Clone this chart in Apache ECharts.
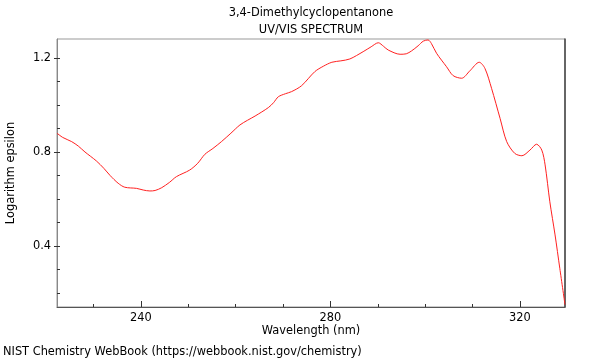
<!DOCTYPE html>
<html><head><meta charset="utf-8">
<script src="https://cdn.jsdelivr.net/npm/echarts@6/dist/echarts.min.js"></script>
<style>html,body{margin:0;padding:0;background:#fff}#c{width:600px;height:360px}</style>
</head><body><div id="c"></div>
<script>
const wavelengths = [222.3,223.5,225.4,226.8,228.2,230.6,232.2,233.5,235.2,236.6,239.1,240.5,241.9,243.0,244.4,246.0,247.5,250.3,252.0,253.5,255.2,257.0,259.0,260.9,262.5,264.1,266.9,268.0,269.0,270.5,271.8,273.9,276.7,278.5,280.3,282.2,284.1,286.9,288.6,290.1,291.2,292.2,294.7,296.0,297.1,298.5,299.6,300.6,301.3,302.4,304.5,305.9,307.7,309.4,311.4,312.6,314.0,315.8,317.2,318.9,320.4,322.1,323.5,324.6,325.3,326.3,327.4,328.4,329.5];
const epsilon = [0.880,0.862,0.844,0.825,0.800,0.762,0.730,0.700,0.667,0.650,0.645,0.638,0.634,0.636,0.648,0.670,0.695,0.723,0.752,0.790,0.815,0.844,0.880,0.915,0.935,0.953,0.989,1.010,1.035,1.048,1.057,1.082,1.142,1.165,1.182,1.188,1.196,1.227,1.248,1.265,1.250,1.234,1.216,1.218,1.230,1.252,1.272,1.277,1.262,1.220,1.163,1.125,1.114,1.145,1.182,1.156,1.071,0.943,0.844,0.794,0.784,0.808,0.833,0.808,0.745,0.588,0.447,0.305,0.150];
const xLabelValues = [240,280,320];
const xMinorTicks = [230,240,250,260,270,280,290,300,310,320];
const yLabelValues = [0.4,0.8,1.2];
const yMinorTicks = [0.2,0.3,0.4,0.5,0.6,0.7,0.8,0.9,1.0,1.1,1.2];
const titleText = '3,4-Dimethylcyclopentanone';
const subtitleText = 'UV/VIS SPECTRUM';
const xName = 'Wavelength (nm)';
const yName = 'Logarithm epsilon';
const footer = 'NIST Chemistry WebBook (https://webbook.nist.gov/chemistry)';

const FONT = 'DejaVu Sans';
const FS = 11.4;
const F = FS + 'px "DejaVu Sans"';
const chart = echarts.init(document.getElementById('c'));
const XMIN = 222.3, XMAX = 329.5, YMIN = 0.14, YMAX = 1.281;
chart.setOption({
  animation: false,
  backgroundColor: '#fff',
  grid: {left: 57, right: 35, top: 39, bottom: 53, show: true, borderColor: '#999', borderWidth: 1},
  graphic: [
    {type: 'text', x: 311, y: 13, style: {text: titleText, font: F, fill: '#000', align: 'center', verticalAlign: 'middle'}},
    {type: 'text', x: 311, y: 30, style: {text: subtitleText, font: F, fill: '#000', align: 'center', verticalAlign: 'middle'}},
    {type: 'text', x: 311, y: 331, style: {text: xName, font: F, fill: '#000', align: 'center', verticalAlign: 'middle'}},
    {type: 'text', x: 11, y: 173, rotation: Math.PI / 2, style: {text: yName, font: F, fill: '#000', align: 'center', verticalAlign: 'middle'}},
    {type: 'text', x: 3, y: 352, style: {text: footer, font: F, fill: '#000', align: 'left', verticalAlign: 'middle'}}
  ],
  xAxis: [
    {type: 'value', min: XMIN, max: XMAX, position: 'bottom',
     axisLine: {show: true, lineStyle: {color: '#555', width: 1}},
     axisTick: {show: true, inside: true, length: 3, customValues: xMinorTicks, lineStyle: {color: '#333'}},
     axisLabel: {show: true, customValues: xLabelValues, margin: 6, fontFamily: FONT, fontSize: FS, color: '#000', formatter: v => String(Math.round(v))},
     splitLine: {show: false}},
    {type: 'value', min: XMIN, max: XMAX, position: 'bottom',
     axisLine: {show: false},
     axisTick: {show: true, inside: true, length: 6, customValues: xLabelValues, lineStyle: {color: '#333'}},
     axisLabel: {show: false}, splitLine: {show: false}}
  ],
  yAxis: [
    {type: 'value', min: YMIN, max: YMAX, position: 'left',
     axisLine: {show: true, lineStyle: {color: '#888', width: 1}},
     axisTick: {show: true, inside: true, length: 3, customValues: yMinorTicks, lineStyle: {color: '#333'}},
     axisLabel: {show: true, customValues: yLabelValues, margin: 6, fontFamily: FONT, fontSize: FS, color: '#000', formatter: v => v.toFixed(1)},
     splitLine: {show: false}},
    {type: 'value', min: YMIN, max: YMAX, position: 'left', offset: -3,
     axisLine: {show: false},
     axisTick: {show: true, inside: false, length: 6, customValues: yLabelValues, lineStyle: {color: '#333'}},
     axisLabel: {show: false}, splitLine: {show: false}},
    {type: 'value', min: YMIN, max: YMAX, position: 'right',
     axisLine: {show: true, lineStyle: {color: '#444', width: 1.5}},
     axisTick: {show: false}, axisLabel: {show: false}, splitLine: {show: false}}
  ],
  series: [{
    type: 'line', xAxisIndex: 0, yAxisIndex: 0,
    data: wavelengths.map((w, i) => [w, epsilon[i]]),
    showSymbol: false, smooth: 0.3,
    lineStyle: {color: '#ff2020', width: 1},
    clip: true
  }]
});
</script></body></html>
